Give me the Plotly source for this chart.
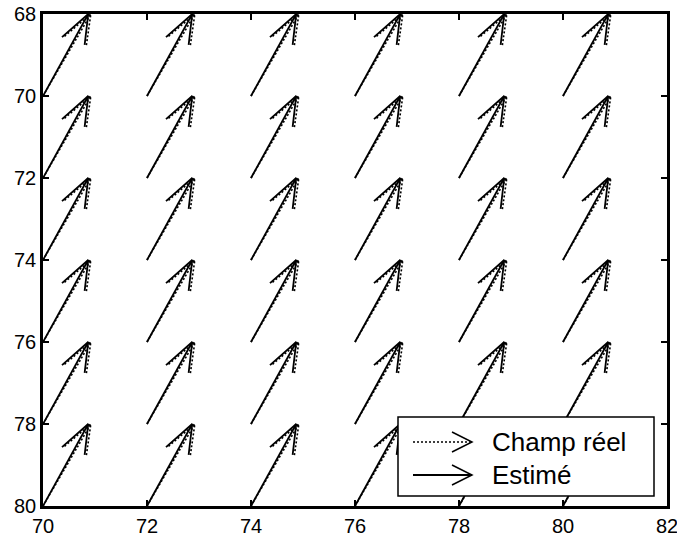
import plotly.graph_objects as go

# Grid of arrow origins
x_origins = [70, 72, 74, 76, 78, 80]
y_origins = [70, 72, 74, 76, 78, 80]

# Uniform vector fields (data units)
u_reel, v_reel = 0.92, -2.0      # Champ réel (dotted)
u_est, v_est = 0.87, -2.0        # Estimé (solid)

x_ticks = [70, 72, 74, 76, 78, 80, 82]
y_ticks = [68, 70, 72, 74, 76, 78, 80]

ALPHA, BETA = 0.33, 0.33
EPS = 2.2e-16


def quiver_xy(xs, ys, u, v):
    X, Y = [], []
    for x in xs:
        for y in ys:
            tx, ty = x + u, y + v
            X += [x, tx, None]
            Y += [y, ty, None]
            h1x = tx - ALPHA * (u + BETA * (v + EPS))
            h1y = ty - ALPHA * (v - BETA * (u + EPS))
            h2x = tx - ALPHA * (u - BETA * (v + EPS))
            h2y = ty - ALPHA * (v + BETA * (u + EPS))
            X += [h1x, tx, h2x, None]
            Y += [h1y, ty, h2y, None]
    return X, Y


fig = go.Figure()
xr, yr = quiver_xy(x_origins, y_origins, u_reel, v_reel)
xe, ye = quiver_xy(x_origins, y_origins, u_est, v_est)
fig.add_trace(go.Scatter(x=xr, y=yr, mode="lines", name="Champ réel",
                         line=dict(color="black", width=1.6, dash="2px,2px"),
                         showlegend=False, hoverinfo="skip"))
fig.add_trace(go.Scatter(x=xe, y=ye, mode="lines", name="Estimé",
                         line=dict(color="black", width=1.8),
                         showlegend=False, hoverinfo="skip"))

W, H = 677, 535
L, R, T, B = 43, 10, 14, 29
pw, ph = W - L - R, H - T - B


def px(x):
    return (x - L) / pw


def py(y):
    return (H - B - y) / ph


shapes = [
    dict(type="rect", xref="paper", yref="paper",
         x0=px(398), x1=px(654), y0=py(496), y1=py(417),
         fillcolor="white", line=dict(color="black", width=1.5), layer="above"),
]
# legend samples
for yy, dash, w in [(442, "2px,2px", 1.6), (475, "solid", 1.8)]:
    shapes.append(dict(type="line", xref="paper", yref="paper",
                       x0=px(413), x1=px(472), y0=py(yy), y1=py(yy),
                       line=dict(color="black", width=w, dash=dash), layer="above"))
    shapes.append(dict(type="path", xref="paper", yref="paper",
                       path=f"M {px(452)} {py(yy-10)} L {px(472)} {py(yy)} L {px(452)} {py(yy+10)}",
                       line=dict(color="black", width=1.5), layer="above"))

annotations = [
    dict(text="Champ réel", xref="paper", yref="paper", x=px(490), y=py(442),
         xanchor="left", yanchor="middle", showarrow=False,
         font=dict(family="Liberation Sans, Arial", size=26, color="black")),
    dict(text="Estimé", xref="paper", yref="paper", x=px(490), y=py(475),
         xanchor="left", yanchor="middle", showarrow=False,
         font=dict(family="Liberation Sans, Arial", size=26, color="black")),
]

axis_common = dict(showgrid=False, zeroline=False, showline=True, linecolor="black",
                   linewidth=2.5, mirror="ticks", ticks="inside", ticklen=6,
                   tickwidth=1.5, tickcolor="black", automargin=False,
                   ticklabeloverflow="allow",
                   tickfont=dict(family="Liberation Sans, Arial", size=20, color="black"))

fig.update_layout(
    width=W, height=H,
    margin=dict(l=L, r=R, t=T, b=B, pad=0, autoexpand=False),
    paper_bgcolor="white", plot_bgcolor="white",
    xaxis=dict(range=[70, 82], tickvals=x_ticks, ticktext=[str(t) for t in x_ticks], **axis_common),
    yaxis=dict(range=[80, 68], tickvals=y_ticks, ticktext=[str(t) for t in y_ticks], **axis_common),
    shapes=shapes, annotations=annotations, showlegend=False,
)

fig.write_html("out.html")
